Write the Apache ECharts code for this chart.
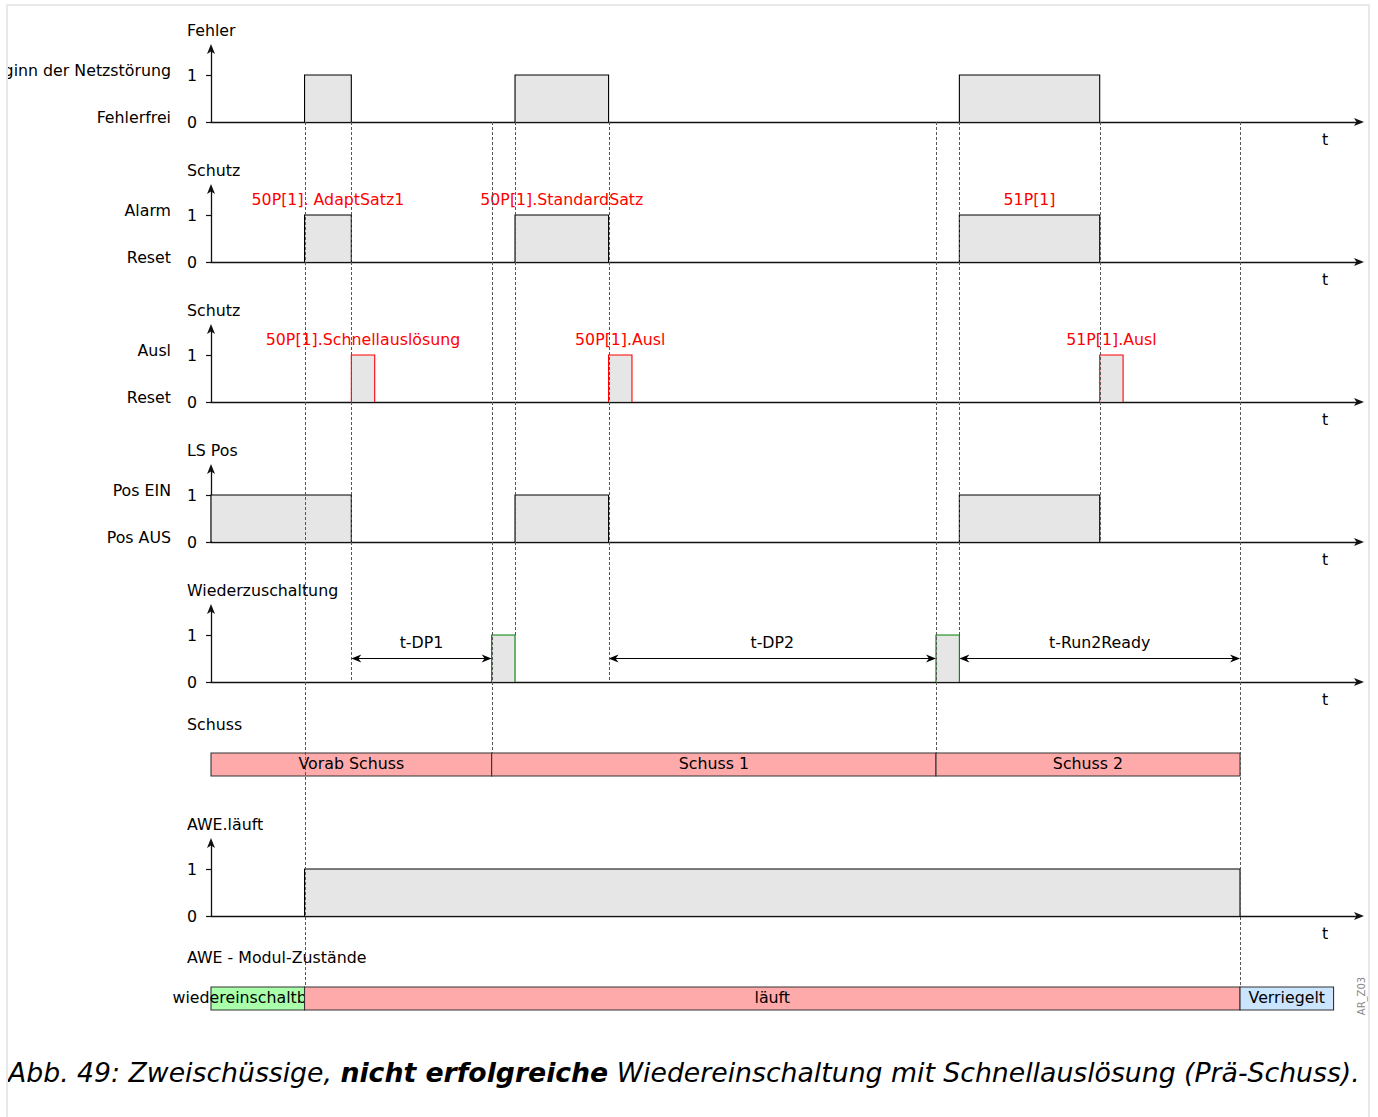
<!DOCTYPE html>
<html><head><meta charset="utf-8">
<script src="https://cdn.jsdelivr.net/npm/echarts@6/dist/echarts.min.js"></script>
<style>html,body{margin:0;padding:0;background:#fff}#c{width:1378px;height:1117px}</style>
</head><body><div id="c"></div>
<script>
// ---------------- data (time in diagram units) ----------------
const timeMax = 49.13;
const panelTitles = ['Fehler', 'Schutz', 'Schutz', 'LS Pos', 'Wiederzuschaltung', 'AWE.läuft'];
const levelHighLabels = ['Beginn der Netzstörung', 'Alarm', 'Ausl', 'Pos EIN', '', ''];
const levelLowLabels = ['Fehlerfrei', 'Reset', 'Reset', 'Pos AUS', '', ''];
const valueTicks = [0, 1];
const faultPulses = [[4, 6], [13, 17], [32, 38]];
const pickupPulses = [[4, 6], [13, 17], [32, 38]];
const pickupNames = ['50P[1]. AdaptSatz1', '50P[1].StandardSatz', '51P[1]'];
const tripPulses = [[6, 7], [17, 18], [38, 39]];
const tripNames = ['50P[1].Schnellauslösung', '50P[1].Ausl', '51P[1].Ausl'];
const breakerPulses = [[0, 6], [13, 17], [32, 38]];
const reclosePulses = [[12, 13], [31, 32]];
const deadTimes = [[6, 12], [17, 31], [32, 44]];
const deadTimeNames = ['t-DP1', 't-DP2', 't-Run2Ready'];
const shotTitle = 'Schuss';
const shotSpans = [[0, 12], [12, 31], [31, 44]];
const shotNames = ['Vorab Schuss', 'Schuss 1', 'Schuss 2'];
const runningPulses = [[4, 44]];
const statesTitle = 'AWE - Modul-Zustände';
const stateSpans = [[0, 4], [4, 44], [44, 48]];
const stateNames = ['wiedereinschaltbereit', 'läuft', 'Verriegelt'];
const guideTimes = [4, 6, 12, 13, 17, 31, 32, 38, 44];
const guideStops = ['states', 'reclose0', 'shot', 'reclose1', 'reclose0', 'shot', 'reclose1', 'breaker0', 'states'];
const timeAxisName = 't';
const figureId = 'AR_Z03';
const captionParts = ['Abb. 49: Zweischüssige, ', 'nicht erfolgreiche', ' Wiedereinschaltung mit Schnellauslösung (Prä-Schuss).'];

// ---------------- layout & style ----------------
const FONT = 'DejaVu Sans';
const FS = 15.8;
const LEFT = 211, WIDTH = 1149;
const LEVEL_PX = 47, AXIS_PX = 74;
const panelBase = [122, 262, 402, 542, 682, 916];
const shotTop = 753, statesTop = 987, BAR_H = 23;
const AX = '#111';
const PULSE_FILL = '#e6e6e6';

const chart = echarts.init(document.getElementById('c'), null, {renderer: 'svg', width: 1378, height: 1117});

const grids = [], xAxes = [], yAxes = [];
const arrowLine = {show: true, onZero: false, symbol: ['none', 'arrow'], symbolSize: [6, 10], symbolOffset: [0, 4],
  lineStyle: {color: AX, width: 1.3}};
panelBase.forEach((b, i) => {
  grids.push({left: LEFT, width: WIDTH, top: b - AXIS_PX, height: AXIS_PX});
  xAxes.push({
    type: 'value', gridIndex: i, min: 0, max: timeMax,
    axisLine: arrowLine,
    axisTick: {show: false}, axisLabel: {show: false}, splitLine: {show: false},
    name: timeAxisName, nameLocation: 'end', nameGap: -35,
    nameTextStyle: {align: 'center', verticalAlign: 'top', padding: [9, 0, 0, 0], fontSize: FS, fontFamily: FONT, color: '#000'}
  });
  yAxes.push({
    type: 'value', gridIndex: i, min: 0, max: AXIS_PX / LEVEL_PX,
    axisLine: arrowLine,
    axisTick: {show: true, customValues: valueTicks, length: 5, lineStyle: {color: AX, width: 1.2}},
    axisLabel: {show: true, customValues: valueTicks, margin: 14, fontSize: FS, fontFamily: FONT, color: '#000',
      formatter: v => (v === 0 || v === 1) ? String(v) : ''},
    splitLine: {show: false}
  });
});
// bar grids: 6 = shot, 7 = states
[shotTop, statesTop].forEach((top, k) => {
  const gi = 6 + k;
  grids.push({left: LEFT, width: WIDTH, top: top, height: BAR_H});
  xAxes.push({type: 'value', gridIndex: gi, min: 0, max: timeMax, show: false});
  yAxes.push({type: 'value', gridIndex: gi, min: 0, max: 1, show: false});
});

const txt = (extra) => Object.assign({fontSize: FS, fontFamily: FONT, fill: '#000'}, extra);

function pulseSeries(gi, spans, stroke, names) {
  return {
    type: 'custom', xAxisIndex: gi, yAxisIndex: gi, z: 3, clip: false,
    data: spans.map((s, k) => [s[0], s[1], k]),
    renderItem(params, api) {
      const p0 = api.coord([api.value(0), 1]);
      const p1 = api.coord([api.value(1), 0]);
      const children = [
        {type: 'rect', shape: {x: p0[0], y: p0[1], width: p1[0] - p0[0], height: p1[1] - p0[1] - 0.7}, style: {fill: PULSE_FILL}},
        {type: 'polyline', shape: {points: [[p0[0], p1[1]], [p0[0], p0[1]], [p1[0], p0[1]], [p1[0], p1[1]]]},
          style: {stroke: stroke, lineWidth: 1.1, fill: 'none'}}
      ];
      if (names) {
        children.push({type: 'text', style: txt({text: names[api.value(2)], x: (p0[0] + p1[0]) / 2, y: p0[1] - 16,
          align: 'center', verticalAlign: 'middle', textAlign: 'center', textVerticalAlign: 'middle', fill: '#ff0000'})});
      }
      return {type: 'group', children};
    }
  };
}

function barSeries(gi, spans, names, fills) {
  return {
    type: 'custom', xAxisIndex: gi, yAxisIndex: gi, z: 3, clip: false,
    data: spans.map((s, k) => [s[0], s[1], k]),
    renderItem(params, api) {
      const k = api.value(2);
      const p0 = api.coord([api.value(0), 1]);
      const p1 = api.coord([api.value(1), 0]);
      return {type: 'group', children: [
        {type: 'rect', shape: {x: p0[0], y: p0[1], width: p1[0] - p0[0], height: p1[1] - p0[1]},
          style: {fill: fills[k], stroke: '#333', lineWidth: 1.1}},
        {type: 'text', style: txt({text: names[k], x: (p0[0] + p1[0]) / 2, y: (p0[1] + p1[1]) / 2 - 1,
          align: 'center', verticalAlign: 'middle', textAlign: 'center', textVerticalAlign: 'middle'})}
      ]};
    }
  };
}

const stopTargets = {
  states: {grid: 7, level: 1},
  shot: {grid: 6, level: 1},
  reclose0: {grid: 4, level: 0},
  reclose1: {grid: 4, level: 1},
  breaker0: {grid: 3, level: 0}
};

const guideSeries = {
  type: 'custom', xAxisIndex: 0, yAxisIndex: 0, z: 10, clip: false,
  data: guideTimes.map((t, i) => [t, i]),
  renderItem(params, api) {
    const t = api.value(0);
    const target = stopTargets[guideStops[api.value(1)]];
    const p0 = api.coord([t, 0]);
    let y2;
    try {
      y2 = chart.convertToPixel({gridIndex: target.grid}, [t, target.level])[1];
    } catch (e) { y2 = null; }
    if (y2 == null || isNaN(y2)) {
      y2 = target.grid === 7 ? statesTop : target.grid === 6 ? shotTop : panelBase[target.grid] - target.level * LEVEL_PX;
    }
    const x = Math.round(p0[0]) + 0.5;
    return {type: 'line', shape: {x1: x, y1: p0[1], x2: x, y2: y2},
      style: {stroke: '#555', lineWidth: 1, lineDash: [3, 2]}};
  }
};

const dimSeries = {
  type: 'custom', xAxisIndex: 4, yAxisIndex: 4, z: 4, clip: false,
  data: deadTimes.map((d, k) => [d[0], d[1], k]),
  renderItem(params, api) {
    const a = api.coord([api.value(0), 0.5]);
    const b = api.coord([api.value(1), 0.5]);
    const top = api.coord([api.value(0), 1]);
    const y = a[1];
    const L = 10, W = 4;
    return {type: 'group', children: [
      {type: 'line', shape: {x1: a[0] + 4, y1: y, x2: b[0] - 4, y2: y}, style: {stroke: '#000', lineWidth: 1.2}},
      {type: 'polygon', shape: {points: [[a[0], y], [a[0] + L, y - W], [a[0] + L - 3, y], [a[0] + L, y + W]]}, style: {fill: '#000'}},
      {type: 'polygon', shape: {points: [[b[0], y], [b[0] - L, y - W], [b[0] - L + 3, y], [b[0] - L, y + W]]}, style: {fill: '#000'}},
      {type: 'text', style: txt({text: deadTimeNames[api.value(2)], x: (a[0] + b[0]) / 2, y: top[1] + 7,
        align: 'center', verticalAlign: 'middle', textAlign: 'center', textVerticalAlign: 'middle'})}
    ]};
  }
};

// ---------------- graphic texts ----------------
const graphics = [];
const gtext = (text, x, y, align, extra) => ({
  type: 'text', x: x, y: y, z: 50,
  style: Object.assign(txt({text: text, textAlign: align, align: align, textVerticalAlign: 'middle', verticalAlign: 'middle'}), extra || {})
});
panelBase.forEach((b, i) => {
  graphics.push(gtext(panelTitles[i], 187, b - 92, 'left'));
  if (levelHighLabels[i]) graphics.push(gtext(levelHighLabels[i], 171, b - LEVEL_PX - 5, 'right'));
  if (levelLowLabels[i]) graphics.push(gtext(levelLowLabels[i], 171, b - 5, 'right'));
});
graphics.push(gtext(shotTitle, 187, shotTop - 29, 'left'));
graphics.push(gtext(statesTitle, 187, statesTop - 30, 'left'));
graphics.push({type: 'text', x: 1361, y: 996, rotation: Math.PI / 2, z: 50,
  style: txt({text: figureId, fontSize: 10, fill: '#8a8a8a', textAlign: 'center', align: 'center', textVerticalAlign: 'middle', verticalAlign: 'middle'})});
graphics.push({type: 'text', x: 8, y: 1072, z: 50,
  style: {
    text: '{i|' + captionParts[0] + '}{b|' + captionParts[1] + '}{i|' + captionParts[2] + '}',
    textAlign: 'left', align: 'left', textVerticalAlign: 'middle', verticalAlign: 'middle',
    rich: {
      i: {fontFamily: FONT, fontSize: 26.7, fontStyle: 'italic', fill: '#000'},
      b: {fontFamily: FONT, fontSize: 26.7, fontStyle: 'italic', fontWeight: 'bold', fill: '#000'}
    }
  }});
// clip area at the left edge and page frame
graphics.push({type: 'rect', z: 90, shape: {x: 0, y: 0, width: 6, height: 1117}, style: {fill: '#fff'}});
graphics.push({type: 'rect', z: 91, shape: {x: 7, y: 5, width: 1362, height: 1200}, style: {fill: 'none', stroke: '#e8e8e8', lineWidth: 2}});

chart.setOption({
  animation: false,
  backgroundColor: '#fff',
  grid: grids,
  xAxis: xAxes,
  yAxis: yAxes,
  series: [
    pulseSeries(0, faultPulses, '#000', null),
    pulseSeries(1, pickupPulses, '#000', pickupNames),
    pulseSeries(2, tripPulses, '#ff0000', tripNames),
    pulseSeries(3, breakerPulses, '#000', null),
    pulseSeries(4, reclosePulses, '#008000', null),
    pulseSeries(5, runningPulses, '#000', null),
    barSeries(6, shotSpans, shotNames, ['#ffaaaa', '#ffaaaa', '#ffaaaa']),
    barSeries(7, stateSpans, stateNames, ['#aaffaa', '#ffaaaa', '#cce5ff']),
    dimSeries,
    guideSeries
  ],
  graphic: graphics
});
</script>
</body></html>
